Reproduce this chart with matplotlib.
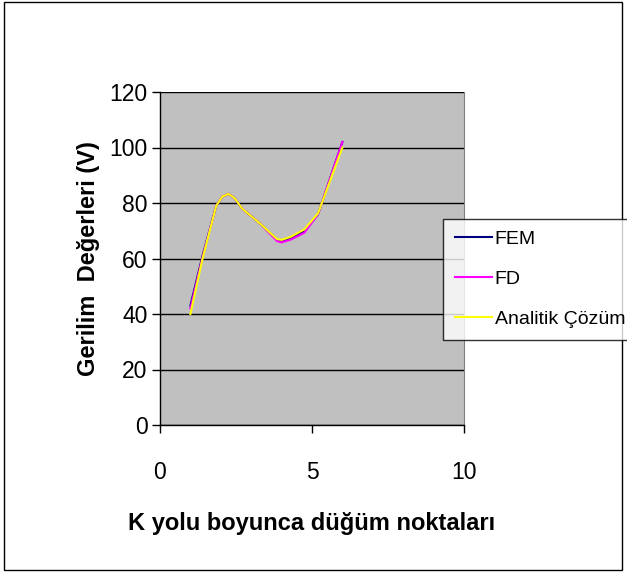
import matplotlib
matplotlib.use("Agg")
import matplotlib.pyplot as plt
from matplotlib.patches import Rectangle

plt.rcParams['font.family'] = ['Liberation Sans', 'DejaVu Sans']

# Data
x_nodes = [1.0, 1.4, 1.85, 2.05, 2.25, 2.45, 2.7, 3.3, 3.85, 4.0, 4.3, 4.75, 5.2, 6.0]
fem = [43, 61, 79, 82.3, 83.3, 81.8, 78, 72.5, 66.8, 66.2, 67.3, 69.8, 76, 102]
fd = [42, 60.5, 79, 82.3, 83.3, 81.8, 78, 72.5, 66.3, 65.8, 66.8, 69.3, 76, 102]
analitik = [40, 60, 79, 82.3, 83.3, 81.8, 78, 72.5, 67.0, 66.7, 67.8, 70.5, 76.3, 100]
series_names = ["FEM", "FD", "Analitik Çözüm"]
series_colors = ["#000080", "#FF00FF", "#FFFF00"]
y_ticks = [0, 20, 40, 60, 80, 100, 120]
x_ticks = [0, 5, 10]

fig = plt.figure(figsize=(6.27, 5.72), dpi=100)
ax = fig.add_axes([160/627, 1-425/572, 304/627, 333/572])
ax.set_facecolor("#C0C0C0")

for vals, name, col in zip([fem, fd, analitik], series_names, series_colors):
    ax.plot(x_nodes, vals, color=col, lw=1.5, label=name, solid_joinstyle='round')

ax.set_xlim(0, 10)
ax.set_ylim(0, 120)
ax.set_xticks(x_ticks)
ax.set_yticks(y_ticks)
ax.grid(axis='y', color='black', lw=1)
ax.set_axisbelow(True)
ax.tick_params(axis='both', labelsize=16.5, direction='out', length=6, width=1, color='black')
ax.tick_params(axis='x', pad=20)
ax.tick_params(axis='y', pad=3)
for s in ['left', 'bottom']:
    ax.spines[s].set_color('black')
    ax.spines[s].set_linewidth(1)
ax.spines['right'].set_color('#808080')
ax.spines['top'].set_visible(False)

ax.set_ylabel("Gerilim  Değerleri (V)", fontsize=17, fontweight='bold', labelpad=7)
ax.set_xlabel("K yolu boyunca düğüm noktaları", fontsize=17, fontweight='bold', labelpad=20)

leg = fig.legend(loc='upper left', bbox_to_anchor=(443/627, 1-219/572), fontsize=14,
                 frameon=True, fancybox=False, handlelength=1.9, handletextpad=0.15,
                 labelspacing=1.15, borderaxespad=0, borderpad=0.6)
leg.get_frame().set_edgecolor('black')
leg.get_frame().set_linewidth(1)
leg.get_frame().set_facecolor('white')

fig.patches.append(Rectangle((4/627, 2/572), 618/627, 568/572, transform=fig.transFigure,
                             fill=False, edgecolor='black', lw=1))

fig.savefig("out.png", dpi=100)
